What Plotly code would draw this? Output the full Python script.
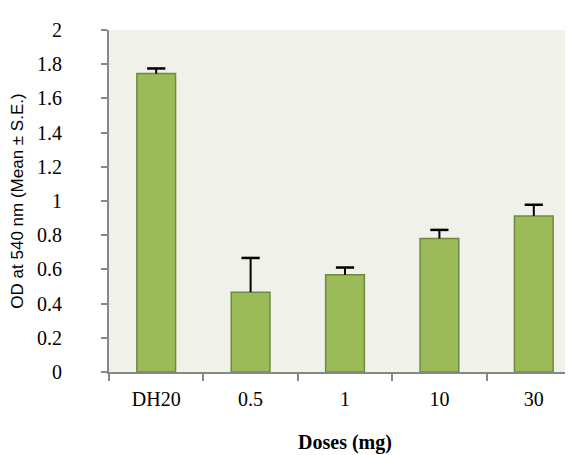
import plotly.graph_objects as go

categories = ["DH20", "0.5", "1", "10", "30"]
means = [1.745, 0.467, 0.568, 0.781, 0.913]
errors = [0.03, 0.20, 0.043, 0.05, 0.065]
y_ticks = [0, 0.2, 0.4, 0.6, 0.8, 1.0, 1.2, 1.4, 1.6, 1.8, 2.0]
y_tick_labels = ["0", "0.2", "0.4", "0.6", "0.8", "1", "1.2", "1.4", "1.6", "1.8", "2"]

fig = go.Figure(go.Bar(
    x=categories, y=means,
    marker=dict(color="#9BBB59", line=dict(color="#71893F", width=1.5)),
    width=0.41,
))

# upper-only error bars: stem + cap
stem_x, stem_y = [], []
for c, m, e in zip(categories, means, errors):
    stem_x += [c, c, None]
    stem_y += [m, m + e, None]
fig.add_trace(go.Scatter(x=stem_x, y=stem_y, mode="lines",
                         line=dict(color="black", width=2), hoverinfo="skip"))
fig.add_trace(go.Scatter(x=categories, y=[m + e for m, e in zip(means, errors)], mode="markers",
                         marker=dict(symbol="line-ew", size=13, line=dict(color="black", width=2.5)),
                         hoverinfo="skip"))

fig.update_layout(
    width=573, height=455,
    margin=dict(l=101, r=0, t=22, b=91),
    paper_bgcolor="white", plot_bgcolor="#F0F2EA",
    showlegend=False,
    font=dict(family="Liberation Serif", size=20, color="black"),
)
fig.update_xaxes(
    showline=True, linecolor="#878787", linewidth=2,
    ticks="outside", tickson="boundaries", ticklen=7, tickcolor="#878787", tickwidth=1.5,
    ticklabelstandoff=8,
    tickfont=dict(family="Liberation Serif", size=20),
    title=dict(text="<b>Doses (mg)</b>", font=dict(family="Liberation Serif", size=20), standoff=26),
    showgrid=False, zeroline=False,
)
fig.update_yaxes(
    range=[0, 2], tickvals=y_ticks, ticktext=y_tick_labels,
    showline=True, linecolor="#878787", linewidth=2,
    ticks="outside", ticklen=6, tickcolor="#878787", tickwidth=1.5,
    ticklabelstandoff=35,
    tickfont=dict(family="Liberation Serif", size=20),
    title=dict(text="OD at 540 nm (Mean ± S.E.)", font=dict(family="Liberation Sans", size=17), standoff=10),
    showgrid=False, zeroline=False,
)

fig.write_html("out.html")
